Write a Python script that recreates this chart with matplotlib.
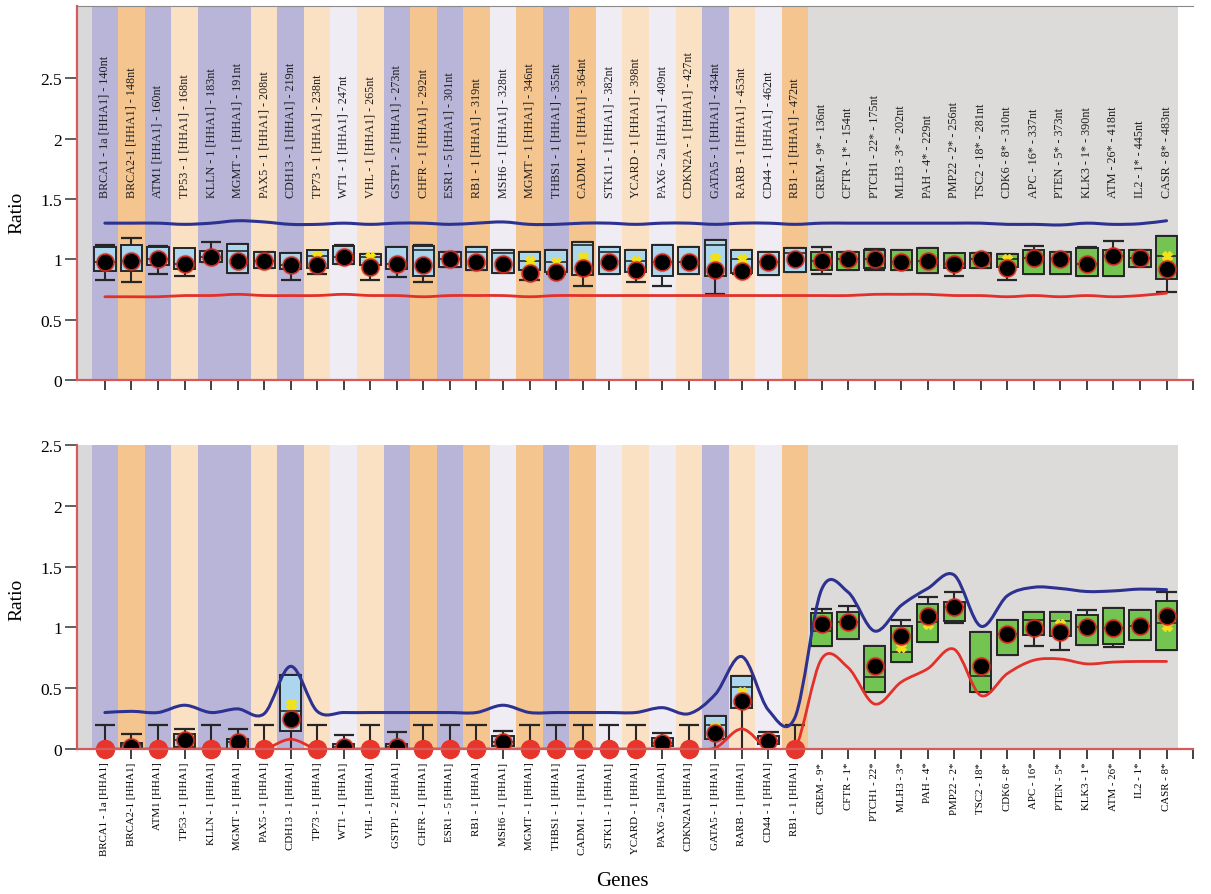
import numpy as np
import matplotlib
import matplotlib.pyplot as plt
from matplotlib.path import Path
from matplotlib.patches import PathPatch

matplotlib.use('agg')  # headless matplotlib

plt.rcParams['font.family'] = ['Liberation Serif', 'DejaVu Serif']

# probe labels (upper panel, drawn inside the plot)
probe_labels = [
    'BRCA1 - 1a [HHA1] - 140nt', 'BRCA2-1 [HHA1] - 148nt', 'ATM1 [HHA1] - 160nt',
    'TP53 - 1 [HHA1] - 168nt', 'KLLN - 1 [HHA1] - 183nt', 'MGMT - 1 [HHA1] - 191nt',
    'PAX5 - 1 [HHA1] - 208nt', 'CDH13 - 1 [HHA1] - 219nt', 'TP73 - 1 [HHA1] - 238nt',
    'WT1 - 1 [HHA1] - 247nt', 'VHL - 1 [HHA1] - 265nt', 'GSTP1 - 2 [HHA1] - 273nt',
    'CHFR - 1 [HHA1] - 292nt', 'ESR1 - 5 [HHA1] - 301nt', 'RB1 - 1 [HHA1] - 319nt',
    'MSH6 - 1 [HHA1] - 328nt', 'MGMT - 1 [HHA1] - 346nt', 'THBS1 - 1 [HHA1] - 355nt',
    'CADM1 - 1 [HHA1] - 364nt', 'STK11 - 1 [HHA1] - 382nt', 'YCARD - 1 [HHA1] - 398nt',
    'PAX6 - 2a [HHA1] - 409nt', 'CDKN2A - 1 [HHA1] - 427nt', 'GATA5 - 1 [HHA1] - 434nt',
    'RARB - 1 [HHA1] - 453nt', 'CD44 - 1 [HHA1] - 462nt', 'RB1 - 1 [HHA1] - 472nt',
    'CREM - 9* - 136nt', 'CFTR - 1* - 154nt', 'PTCH1 - 22* - 175nt', 'MLH3 - 3* - 202nt',
    'PAH - 4* - 229nt', 'PMP22 - 2* - 256nt', 'TSC2 - 18* - 281nt', 'CDK6 - 8* - 310nt',
    'APC - 16* - 337nt', 'PTEN - 5* - 373nt', 'KLK3 - 1* - 390nt', 'ATM - 26* - 418nt',
    'IL2 - 1* - 445nt', 'CASR - 8* - 483nt',
]

# tick labels (lower panel)
tick_labels = [
    'BRCA1 - 1a [HHA1]', 'BRCA2-1 [HHA1]', 'ATM1 [HHA1]', 'TP53 - 1 [HHA1]',
    'KLLN - 1 [HHA1]', 'MGMT - 1 [HHA1]', 'PAX5 - 1 [HHA1]', 'CDH13 - 1 [HHA1]',
    'TP73 - 1 [HHA1]', 'WT1 - 1 [HHA1]', 'VHL - 1 [HHA1]', 'GSTP1 - 2 [HHA1]',
    'CHFR - 1 [HHA1]', 'ESR1 - 5 [HHA1]', 'RB1 - 1 [HHA1]', 'MSH6 - 1 [HHA1]',
    'MGMT - 1 [HHA1]', 'THBS1 - 1 [HHA1]', 'CADM1 - 1 [HHA1]', 'STK11 - 1 [HHA1]',
    'YCARD - 1 [HHA1]', 'PAX6 - 2a [HHA1]', 'CDKN2A1 [HHA1]', 'GATA5 - 1 [HHA1]',
    'RARB - 1 [HHA1]', 'CD44 - 1 [HHA1]', 'RB1 - 1 [HHA1]',
    'CREM - 9*', 'CFTR - 1*', 'PTCH1 - 22*', 'MLH3 - 3*', 'PAH - 4*', 'PMP22 - 2*',
    'TSC2 - 18*', 'CDK6 - 8*', 'APC - 16*', 'PTEN - 5*', 'KLK3 - 1*', 'ATM - 26*',
    'IL2 - 1*', 'CASR - 8*',
]

# background band per probe: P lavender, O orange, L peach, W pale, G control
band_kind = list('POPLPPLPLWLPOPOWOPOWLWLPLWO') + ['G'] * 14

# ---- upper panel: reference sample ----
top_mean = [0.98, 0.99, 1.00, 0.96, 1.02, 0.99, 0.99, 0.95, 0.955, 1.02, 0.935, 0.96, 0.95, 1.00,
            0.98, 0.96, 0.89, 0.895, 0.93, 0.98, 0.91, 0.98, 0.98, 0.91, 0.90, 0.975, 1.00,
            0.99, 1.00, 1.00, 0.98, 0.99, 0.96, 1.00, 0.93, 1.01, 1.00, 0.96, 1.03, 1.01, 0.92]
top_q1 = [0.90, 0.90, 0.95, 0.92, 0.98, 0.89, 0.93, 0.92, 0.93, 0.96, 0.95, 0.92, 0.86, 0.935,
          0.915, 0.89, 0.91, 0.895, 0.87, 0.88, 0.895, 0.86, 0.88, 0.86, 0.89, 0.87, 0.895,
          0.91, 0.915, 0.925, 0.91, 0.89, 0.93, 0.925, 0.935, 0.88, 0.88, 0.865, 0.865, 0.935, 0.84]
top_q3 = [1.10, 1.12, 1.10, 1.09, 1.07, 1.13, 1.06, 1.055, 1.08, 1.11, 1.047, 1.10, 1.11, 1.065,
          1.10, 1.08, 1.06, 1.075, 1.145, 1.10, 1.075, 1.12, 1.10, 1.16, 1.075, 1.06, 1.095,
          1.06, 1.065, 1.075, 1.08, 1.095, 1.055, 1.055, 1.045, 1.075, 1.065, 1.095, 1.08, 1.08, 1.19]
top_med = [0.98, 0.99, 1.00, 0.96, 1.02, 1.07, 0.99, 0.95, 1.03, 1.02, 1.02, 0.96, 1.08, 1.00,
           1.06, 1.05, 0.99, 0.98, 1.12, 1.06, 0.99, 0.98, 0.98, 1.12, 1.00, 0.975, 1.05,
           0.99, 1.00, 1.00, 0.98, 0.99, 0.96, 1.00, 1.00, 1.01, 1.00, 0.96, 1.03, 1.01, 1.03]
top_wlo = [0.83, 0.81, 0.88, 0.865, 0.98, 0.89, 0.93, 0.83, 0.88, 0.96, 0.825, 0.85, 0.81, 0.935,
           0.915, 0.89, 0.83, 0.875, 0.78, 0.88, 0.81, 0.78, 0.88, 0.71, 0.88, 0.87, 0.895,
           0.88, 0.915, 0.915, 0.91, 0.89, 0.865, 0.925, 0.83, 0.88, 0.88, 0.865, 0.865, 0.935, 0.73]
top_whi = [1.115, 1.18, 1.11, 1.055, 1.14, 1.13, 1.06, 1.055, 1.047, 1.12, 1.047, 1.10, 1.115, 1.065,
           1.10, 1.08, 1.06, 1.075, 1.145, 1.10, 1.075, 1.12, 1.10, 1.16, 1.075, 1.06, 1.095,
           1.10, 1.065, 1.085, 1.08, 1.095, 1.045, 1.055, 1.045, 1.11, 1.065, 1.10, 1.15, 1.08, 1.19]
top_star = [np.nan] * 8 + [1.03, np.nan, 1.02] + [np.nan] * 5 + [0.99, 0.98, 1.02, np.nan, 0.99,
            np.nan, np.nan, 1.01, 1.00] + [np.nan] * 9 + [1.00] + [np.nan] * 5 + [1.03]
top_upper = [1.30, 1.30, 1.30, 1.29, 1.30, 1.32, 1.31, 1.29, 1.29, 1.30, 1.29, 1.30, 1.30, 1.29,
             1.30, 1.31, 1.29, 1.29, 1.30, 1.30, 1.29, 1.30, 1.30, 1.29, 1.30, 1.30, 1.29,
             1.30, 1.30, 1.30, 1.30, 1.30, 1.30, 1.30, 1.29, 1.29, 1.285, 1.30, 1.29, 1.295, 1.32]
top_lower = [0.69, 0.69, 0.69, 0.70, 0.70, 0.71, 0.70, 0.70, 0.70, 0.71, 0.70, 0.70, 0.69, 0.70,
             0.70, 0.70, 0.69, 0.70, 0.70, 0.70, 0.70, 0.70, 0.70, 0.70, 0.70, 0.70, 0.70,
             0.70, 0.70, 0.71, 0.71, 0.71, 0.70, 0.70, 0.69, 0.70, 0.69, 0.70, 0.69, 0.70, 0.72]

# ---- lower panel: test sample (nan = no signal) ----
nan = np.nan
bot_mean = [nan, 0.014, nan, 0.077, nan, 0.055, nan, 0.247, nan, 0.014, nan, 0.014, nan, nan,
            nan, 0.055, nan, nan, nan, nan, nan, 0.049, nan, 0.132, 0.397, 0.069, nan,
            1.028, 1.042, 0.680, 0.932, 1.096, 1.165, 0.680, 0.946, 0.992, 0.965, 1.00, 0.992, 1.009, 1.096]
bot_q1 = [nan, 0.0, nan, 0.014, nan, 0.0, nan, 0.151, nan, 0.0, nan, 0.0, nan, nan,
          nan, 0.027, nan, nan, nan, nan, nan, 0.027, nan, 0.082, 0.334, 0.04, nan,
          0.844, 0.905, 0.466, 0.713, 0.883, 1.056, 0.466, 0.773, 0.939, 0.927, 0.855, 0.864, 0.899, 0.817]
bot_q3 = [nan, 0.05, nan, 0.123, nan, 0.082, nan, 0.609, nan, 0.04, nan, 0.04, nan, nan,
          nan, 0.11, nan, nan, nan, nan, nan, 0.088, nan, 0.274, 0.598, 0.11, nan,
          1.118, 1.129, 0.844, 1.014, 1.192, 1.212, 0.959, 1.063, 1.124, 1.124, 1.102, 1.157, 1.14, 1.220]
bot_med = [nan, 0.03, nan, 0.077, nan, 0.055, nan, 0.315, nan, 0.014, nan, 0.014, nan, nan,
           nan, 0.055, nan, nan, nan, nan, nan, 0.049, nan, 0.20, 0.507, 0.069, nan,
           0.973, 1.042, 0.59, 0.80, 1.042, 1.165, 0.603, 0.946, 1.06, 1.05, 1.00, 0.992, 1.009, 1.036]
bot_wlo = [0.0] * 27 + [0.844, 0.905, 0.466, 0.713, 0.883, 1.036, 0.466, 0.773, 0.844,
                        0.817, 0.855, 0.836, 0.899, 0.817]
bot_whi = [0.20, 0.123, 0.20, 0.165, 0.20, 0.165, 0.20, 0.609, 0.20, 0.115, 0.20, 0.137, 0.20, 0.20,
           0.20, 0.151, 0.20, 0.20, 0.20, 0.20, 0.20, 0.132, 0.20, 0.274, 0.598, 0.143, 0.20,
           1.151, 1.179, 0.844, 1.063, 1.247, 1.289, 0.959, 1.063, 1.124, 1.124, 1.146, 1.157, 1.14, 1.289]
bot_star = [nan] * 7 + [0.37] + [nan] * 15 + [0.178, 0.466] + [nan] * 5 + [0.836, 1.028] + \
           [nan] * 3 + [1.014, 1.028] + [nan] * 3 + [1.014]
bot_upper = [0.30, 0.31, 0.30, 0.36, 0.30, 0.33, 0.29, 0.68, 0.31, 0.30, 0.30, 0.30, 0.30, 0.30,
             0.30, 0.36, 0.30, 0.30, 0.30, 0.30, 0.30, 0.34, 0.29, 0.45, 0.76, 0.32, 0.26,
             1.31, 1.29, 0.97, 1.18, 1.32, 1.43, 1.01, 1.26, 1.33, 1.32, 1.295, 1.30, 1.315, 1.31]
bot_lower = [0.0] * 7 + [0.08] + [0.0] * 15 + [0.01, 0.165, 0.0, 0.0,
             0.74, 0.67, 0.37, 0.55, 0.66, 0.82, 0.44, 0.62, 0.73, 0.74, 0.70, 0.715, 0.72, 0.72]

BAND_COLORS = {'P': '#b9b5d9', 'O': '#f5c590', 'L': '#fbe1c4', 'W': '#efedf3', 'G': '#dddbd9'}
BOX_COLORS = {'G': '#74c452'}
EDGE = '#262626'


def smooth_curve(ax, xs, ys, color, lw):
    # Catmull-Rom through the points, drawn as cubic Bezier segments
    pts = np.column_stack([xs, ys])
    ext = np.vstack([pts[0], pts, pts[-1]])
    verts = [pts[0]]
    codes = [Path.MOVETO]
    for i in range(len(pts) - 1):
        p0, p1, p2, p3 = ext[i], ext[i + 1], ext[i + 2], ext[i + 3]
        verts += [p1 + (p2 - p0) / 6, p2 - (p3 - p1) / 6, p2]
        codes += [Path.CURVE4] * 3
    ax.add_patch(PathPatch(Path(verts, codes), fill=False, edgecolor=color,
                           lw=lw, zorder=5.5, capstyle='round'))


def draw_bands(ax, n):
    ax.axvspan(-1.05, -0.5, color='#d9d9d9', lw=0, zorder=0)
    for i, kind in enumerate(band_kind):
        if kind != 'G':
            ax.axvspan(i - 0.5, i + 0.5, color=BAND_COLORS[kind], lw=0, zorder=0)
    first_ctrl = band_kind.index('G')
    ax.axvspan(first_ctrl - 0.5, n - 1 + 0.45, color=BAND_COLORS['G'], lw=0, zorder=0)


def draw_panel(ax, mean, q1, q3, med, wlo, whi, star, upper, lower):
    n = len(mean)
    x = np.arange(n)
    mean, q1, q3, med = map(np.asarray, (mean, q1, q3, med))
    wlo, whi, star = map(np.asarray, (wlo, whi, star))
    draw_bands(ax, n)

    smooth_curve(ax, x, upper, '#2d3190', 2.2)
    smooth_curve(ax, x, lower, '#e3302a', 2.0)

    ax.vlines(x, wlo, whi, color=EDGE, lw=1.5, zorder=3)
    ax.hlines(whi, x - 0.38, x + 0.38, color=EDGE, lw=1.6, zorder=3)
    has_low = wlo > 0
    ax.hlines(wlo[has_low], x[has_low] - 0.38, x[has_low] + 0.38, color=EDGE, lw=1.6, zorder=3)

    has_box = ~np.isnan(q1)
    faces = [BOX_COLORS.get(band_kind[i], '#acd5ee') for i in x[has_box]]
    ax.bar(x[has_box], (q3 - q1)[has_box], bottom=q1[has_box], width=0.8,
           color=faces, edgecolor=EDGE, lw=1.4, zorder=4)
    ax.hlines(med[has_box], x[has_box] - 0.4, x[has_box] + 0.4, color=EDGE, lw=1.2, zorder=5)

    ax.plot(x, star, ls='none', marker='X', ms=7, color='#f2e21c', zorder=6)

    ok = ~np.isnan(mean)
    ax.plot(x[ok], mean[ok], ls='none', marker='o', ms=13.5, color='#e04a30', alpha=0.2, zorder=6.5)
    ax.plot(x[ok], mean[ok], ls='none', marker='o', ms=12, mfc='black', mec='#c8281c',
            mew=1.1, zorder=7)
    empty = x[~ok]
    ax.plot(empty, np.zeros(len(empty)), ls='none', marker='o', ms=13, color='#e8352b',
            clip_on=False, zorder=8)


def style_axis(ax, ymax):
    n = len(probe_labels)
    ax.set_xlim(-1.05, n)
    ax.set_ylim(0, ymax)
    ax.set_xticks(np.arange(n + 1))
    ax.set_yticks([0, 0.5, 1, 1.5, 2, 2.5])
    ax.set_yticklabels(['0', '0.5', '1', '1.5', '2', '2.5'])
    for side in ('right', 'top'):
        ax.spines[side].set_visible(False)
    for side in ('left', 'bottom'):
        ax.spines[side].set_color('#d65a5a')
        ax.spines[side].set_linewidth(1.6)
        ax.spines[side].set_zorder(9)
    ax.tick_params(axis='y', length=9, width=1.2, color='#444444', labelsize=12.5, pad=2)
    ax.tick_params(axis='x', length=7, width=1.3, color='#333333')


fig = plt.figure(figsize=(12.11, 8.95), dpi=100)
ax_top = fig.add_axes([0.0636, 0.5743, 0.9216, 0.4179])
ax_bot = fig.add_axes([0.0636, 0.1620, 0.9216, 0.3397])

draw_panel(ax_top, top_mean, top_q1, top_q3, top_med, top_wlo, top_whi, top_star,
           top_upper, top_lower)
style_axis(ax_top, 3.1)
ax_top.tick_params(axis='x', labelbottom=False)
ax_top.spines['top'].set_visible(True)
ax_top.spines['top'].set_color('#8a8a8a')
ax_top.spines['top'].set_linewidth(0.8)
for i, label in enumerate(probe_labels):
    ax_top.text(i, 1.52, label, rotation=90, ha='center', va='bottom',
                fontsize=8.7, color='#1e1e1e', zorder=6)

draw_panel(ax_bot, bot_mean, bot_q1, bot_q3, bot_med, bot_wlo, bot_whi, bot_star,
           bot_upper, bot_lower)
style_axis(ax_bot, 2.5)
ax_bot.set_xticklabels(tick_labels + [''], rotation=90, fontsize=7.8, va='top')
ax_bot.tick_params(axis='x', pad=2)

fig.text(0.014, 0.762, 'Ratio', rotation=90, ha='center', va='center', fontsize=14)
fig.text(0.014, 0.330, 'Ratio', rotation=90, ha='center', va='center', fontsize=14)
fig.text(0.5136, 0.015, 'Genes', ha='center', va='center', fontsize=15)

fig.savefig('out.png', dpi=100)
